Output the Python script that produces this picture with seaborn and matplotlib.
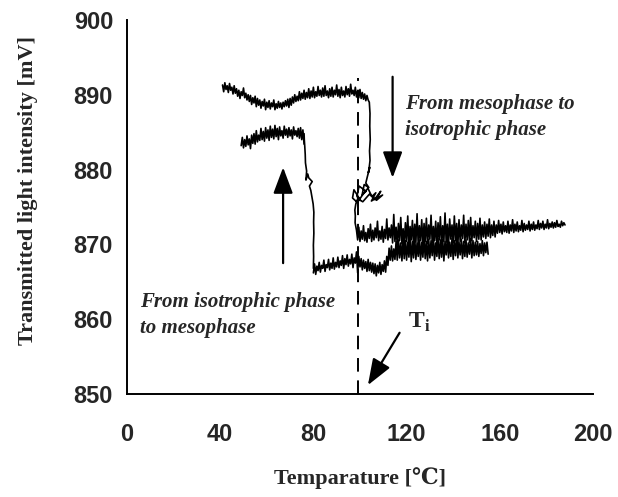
import numpy as np
import pandas as pd
import matplotlib
matplotlib.use("Agg")
import matplotlib.pyplot as plt
import seaborn as sns

# ---- data read off the trace (mV), sampled every 0.5 degC ----
# heating run: mesophase -> isotropic
heat_a_start, heat_b_start, step = 41.0, 98.5, 0.5
heat_a_mv = [
    891.3, 890.4, 891.6, 890.7, 891.2, 890.3, 891.5, 890.6, 891.0, 890.1,
    891.2, 890.2, 890.8, 889.8, 890.6, 889.5, 890.4, 889.9, 890.9, 889.6,
    890.2, 889.3, 890.0, 889.1, 889.9, 888.7, 889.6, 888.9, 889.8, 888.4,
    889.5, 888.6, 889.3, 888.2, 889.1, 888.5, 889.4, 888.0, 889.0, 888.3,
    889.2, 888.1, 888.9, 888.4, 889.3, 888.0, 888.8, 888.2, 889.1, 888.3,
    888.9, 888.1, 889.0, 888.4, 889.2, 888.5, 889.4, 888.3, 889.5, 888.6,
    889.7, 888.9, 890.0, 889.1, 889.8, 889.2, 890.4, 889.3, 890.2, 889.5,
    890.6, 889.4, 890.3, 889.6, 890.8, 889.5, 890.5, 889.7, 891.0, 889.6,
    890.4, 889.8, 891.1, 889.9, 890.6, 889.7, 890.9, 889.8, 891.2, 889.9,
    890.5, 889.6, 890.8, 889.8, 891.0, 889.7, 890.6, 890.0, 891.3, 889.8,
    890.7, 889.6, 891.0, 889.9, 890.5, 889.7, 891.1, 890.0, 890.8, 889.8,
    891.4, 890.1, 890.6, 889.9, 891.0, 889.7, 890.5, 889.6, 890.7, 889.5,
    890.3, 889.4, 890.1, 889.2, 889.9, 889.3,
]
heat_drop_t = [104.0, 104.3, 104.2, 104.4, 104.1, 104.3, 104.0, 103.6, 104.2, 103.2,
               102.5, 103.8, 101.8, 100.9, 102.6, 99.6, 98.7, 100.2, 97.4, 96.8,
               98.9, 101.5, 103.4, 105.1, 106.8, 104.9, 107.5, 108.9, 106.2, 109.7,
               107.1, 104.0, 101.2, 99.0, 98.2, 97.8, 98.0, 97.9, 98.3]
heat_drop_mv = [889.0, 887.5, 885.8, 884.0, 882.5, 881.2, 880.4, 879.6, 880.3, 879.1,
                878.2, 877.6, 878.0, 876.6, 877.1, 877.8, 876.4, 875.9, 877.3, 876.2,
                875.6, 876.8, 877.5, 876.4, 876.9, 875.8, 876.3, 877.1, 876.0, 876.6,
                875.9, 876.7, 875.7, 876.1, 875.4, 874.6, 873.8, 872.9, 872.2]
heat_b_mv = [
    871.9, 870.6, 872.3, 870.4, 871.8, 870.7, 872.5, 870.5, 871.6, 870.3,
    872.1, 870.8, 872.7, 870.4, 871.9, 870.6, 872.2, 870.9, 873.1, 870.5,
    871.8, 870.7, 872.4, 870.3, 872.0, 870.8, 873.4, 870.6, 872.2, 870.9,
    872.6, 870.2, 874.0, 870.4, 872.3, 869.9, 872.8, 870.5, 873.6, 870.1,
    872.1, 870.0, 872.9, 870.4, 873.8, 869.8, 872.4, 870.6, 873.2, 870.0,
    872.7, 870.3, 874.1, 869.9, 872.5, 870.5, 873.3, 870.0, 872.8, 870.4,
    873.5, 870.1, 872.6, 870.7, 873.9, 870.2, 872.4, 870.5, 873.1, 869.9,
    872.9, 870.6, 873.7, 870.1, 872.5, 870.4, 874.2, 870.3, 872.7, 870.0,
    873.4, 870.7, 872.6, 870.2, 873.8, 870.5, 872.8, 869.9, 873.3, 870.4,
    872.6, 870.8, 873.9, 870.2, 872.7, 870.6, 873.2, 870.3, 873.6, 870.5,
    872.5, 870.9, 873.1, 870.4, 872.8, 870.7, 873.5, 870.6, 872.6, 871.0,
    873.0, 870.8, 872.7, 871.1, 873.4, 870.9, 872.6, 871.2, 873.1, 871.0,
    872.6, 871.5, 873.2, 871.6, 872.7, 871.4, 873.0, 871.7, 872.5, 871.6,
    873.1, 871.5, 872.6, 871.8, 873.3, 871.6, 872.7, 871.8, 873.0, 871.7,
    872.5, 871.9, 873.2, 871.7, 872.8, 871.9, 872.6, 872.0, 873.1, 871.8,
    872.7, 872.0, 873.0, 871.9, 872.6, 872.1, 873.2, 872.0, 872.8, 872.2,
    873.1, 872.0, 872.7, 872.2, 873.3, 872.1, 872.8, 872.3, 873.0, 872.2,
    872.9, 872.3, 873.2, 872.4, 872.7, 872.3, 873.1, 872.5, 872.9, 872.6,
]

# cooling run: isotropic -> mesophase
cool_low_start, cool_left_start = 80.0, 49.0
cool_low_mv = [
    866.2, 867.4, 866.0, 867.1, 866.5, 867.6, 866.3, 867.2, 866.8, 867.9,
    866.4, 867.3, 866.9, 868.0, 866.6, 867.5, 866.8, 868.2, 866.7, 867.6,
    867.0, 868.3, 866.9, 867.8, 867.2, 868.5, 866.8, 868.1, 867.3, 868.6,
    867.1, 868.0, 867.4, 868.7, 866.9, 868.2, 867.5, 869.0, 866.2, 868.4,
    867.0, 868.1, 866.6, 867.9, 866.8, 867.7, 866.4, 868.0, 866.5, 867.6,
    866.3, 867.5, 866.1, 867.4, 865.8, 867.2, 866.2, 867.6, 866.0, 867.3,
    866.4, 867.8, 866.3, 868.4, 867.2, 869.5, 867.9, 869.8, 867.8, 869.4,
    868.0, 870.4, 867.9, 870.6, 868.2, 870.2, 867.8, 870.7, 868.1, 870.5,
    867.9, 870.3, 868.3, 870.8, 867.7, 870.4, 868.2, 870.9, 868.0, 870.2,
    868.4, 870.6, 867.9, 870.3, 868.3, 871.0, 868.1, 870.4, 867.8, 870.7,
    868.2, 870.5, 868.5, 870.9, 867.9, 870.2, 868.4, 870.8, 868.1, 870.6,
    868.3, 870.7, 867.8, 870.4, 868.6, 870.9, 868.2, 870.3, 868.4, 870.8,
    868.0, 870.5, 868.5, 871.0, 868.2, 870.3, 868.6, 870.7, 868.1, 870.4,
    868.4, 870.6, 868.3, 870.2, 868.7, 870.8, 868.2, 870.5, 868.5, 870.3,
    868.6, 870.4, 868.4, 870.1, 868.8, 870.5, 868.5, 870.2, 868.9, 870.3,
    868.7,
]
cool_jump_t = [80.0, 80.1, 80.0, 80.2, 80.1, 80.2, 79.9, 79.4, 78.9, 78.3,
               79.5, 78.0, 77.6, 76.8, 77.1, 76.6, 76.5, 76.3, 76.1, 76.0]
cool_jump_mv = [866.8, 868.4, 869.9, 871.5, 873.0, 874.3, 875.4, 876.3, 877.2, 877.8,
                878.4, 878.9, 879.4, 878.6, 879.8, 880.9, 882.0, 883.1, 884.0, 884.8]
cool_left_mv = [
    883.2, 884.3, 882.9, 884.0, 883.1, 884.5, 883.3, 884.1, 882.8, 884.6,
    883.5, 884.8, 883.4, 885.2, 883.7, 884.6, 883.9, 885.5, 884.0, 885.1,
    883.8, 885.6, 884.2, 885.3, 883.9, 885.8, 884.3, 885.4, 884.1, 885.9,
    884.4, 885.5, 884.0, 885.7, 884.5, 885.2, 884.2, 885.8, 884.6, 885.4,
    884.3, 885.6, 884.5, 885.3, 884.1, 885.7, 884.6, 885.2, 884.4, 885.5,
    884.2, 885.6, 884.0, 885.3, 883.4,
]

ti_temp = 99.0
ti_line_top = 892.2

# ---- build tables ----
def sampled(start, values):
    return pd.DataFrame({"T": start + step * np.arange(len(values)), "mV": values})

heating = pd.concat([
    sampled(heat_a_start, heat_a_mv),
    pd.DataFrame({"T": heat_drop_t, "mV": heat_drop_mv}),
    sampled(heat_b_start, heat_b_mv),
], ignore_index=True)
cool_low = sampled(cool_low_start, cool_low_mv)
cool_jump = pd.DataFrame({"T": cool_jump_t, "mV": cool_jump_mv})
cool_left = sampled(cool_left_start, cool_left_mv)

sns.set_style("white")
plt.rcParams["font.family"] = ["Liberation Sans", "DejaVu Sans"]
serif = ["Liberation Serif", "DejaVu Serif"]

fig = plt.figure(figsize=(6.18, 4.97), dpi=100)
ax = fig.add_axes([0.2055, 0.207, 0.754, 0.753])

for seg in (heating, cool_low, cool_jump, cool_left):
    sns.lineplot(data=seg, x="T", y="mV", sort=False, estimator=None,
                 color="black", lw=1.2, ax=ax)

ax.vlines(ti_temp, 850, ti_line_top, colors="black", lw=1.4,
          linestyles=(0, (7, 4.5)))

arrow = dict(arrowstyle="-|>,head_length=0.8,head_width=0.3",
             mutation_scale=20, lw=1.6, color="black", shrinkA=0, shrinkB=0)
ax.annotate("", xy=(67, 880.3), xytext=(67, 867.5), arrowprops=arrow)
ax.annotate("", xy=(114, 878.9), xytext=(114, 892.4), arrowprops=arrow)
ax.annotate("", xy=(103.4, 851.2), xytext=(117, 858.2), arrowprops=arrow)

ax.text(119.3, 887.0, "From mesophase to\nisotrophic phase", family=serif,
        fontsize=15, fontweight="bold", style="italic", va="center",
        linespacing=1.4)
ax.text(5.6, 860.6, "From isotrophic phase\nto mesophase", family=serif,
        fontsize=15, fontweight="bold", style="italic", va="center",
        linespacing=1.4)
ax.text(120.5, 859.6, r"T$_\mathregular{i}$", family=serif, fontsize=17,
        fontweight="bold", va="center")

ax.set_xlim(0, 200)
ax.set_ylim(850, 900)
ax.set_xticks(range(0, 201, 40))
ax.set_yticks(range(850, 901, 10))
ax.tick_params(direction="in", length=8, width=1.3, labelsize=17)
ax.tick_params(axis="y", pad=10)
ax.tick_params(axis="x", pad=21)
for lab in ax.get_xticklabels() + ax.get_yticklabels():
    lab.set_fontweight("bold")

for side in ("top", "right"):
    ax.spines[side].set_visible(False)
for side in ("left", "bottom"):
    ax.spines[side].set_color("black")
    ax.spines[side].set_linewidth(1.4)

ax.set_xlabel("Temparature [\u2103]", family=serif, fontsize=16, fontweight="bold")
ax.set_ylabel("Transmitted light intensity [mV]", family=serif, fontsize=16,
              fontweight="bold")
ax.xaxis.set_label_coords(0.5, -0.195)
ax.yaxis.set_label_coords(-0.19, 0.545)

fig.savefig("out.png", dpi=100)
